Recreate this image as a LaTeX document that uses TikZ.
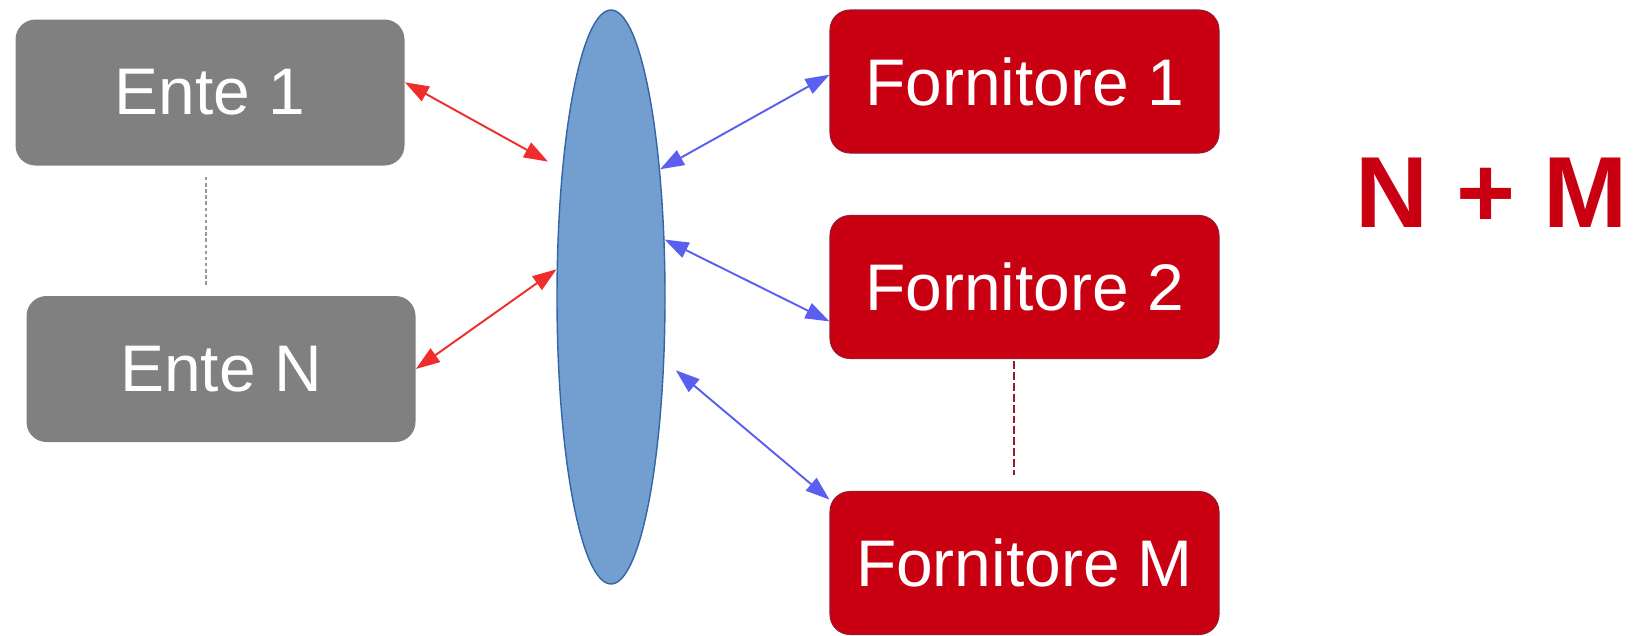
\documentclass[tikz,border=0pt]{standalone}
\usepackage{fontspec}
\setmainfont{Liberation Sans}
\usepackage{tikz}
\usetikzlibrary{calc}
\usetikzlibrary{arrows.meta}
\usetikzlibrary{shapes.geometric}
\definecolor{entegray}{RGB}{128,128,128}
\definecolor{fornred}{RGB}{201,0,17}
\definecolor{fornedge}{RGB}{150,25,45}
\definecolor{hubblue}{RGB}{114,159,207}
\definecolor{hubedge}{RGB}{52,101,164}
\definecolor{arrred}{RGB}{240,45,45}
\definecolor{arrblue}{RGB}{90,95,240}
\tikzset{ente/.style={rectangle,rounded corners=0.4cm,fill=entegray,text=white,minimum width=7.78cm,minimum height=2.92cm,inner sep=0pt,font=\fontsize{37.5}{40}\selectfont}}
\tikzset{fornitore/.style={rectangle,rounded corners=0.4cm,fill=fornred,draw=fornedge,line width=0.6pt,text=white,minimum width=7.78cm,minimum height=2.86cm,inner sep=0pt,font=\fontsize{37.5}{40}\selectfont}}
\tikzset{hub/.style={ellipse,fill=hubblue,draw=hubedge,line width=0.8pt,minimum width=2.16cm,minimum height=11.48cm,inner sep=0pt}}
\tikzset{somma/.style={text=fornred,inner sep=0pt,font=\fontsize{57.5}{60}\selectfont\bfseries}}
\tikzset{linkred/.style={draw=arrred,line width=1.1pt,>={Triangle[length=0.48cm,width=0.33cm]},<->}}
\tikzset{linkblue/.style={draw=arrblue,line width=1.1pt,>={Triangle[length=0.48cm,width=0.33cm]},<->}}
\tikzset{dotgray/.style={draw=gray!80,line width=0.8pt,dash pattern=on 2pt off 1.5pt}}
\tikzset{dotred/.style={draw=fornedge,line width=1.1pt,dash pattern=on 4.5pt off 1.7pt}}

\begin{document}
\begin{tikzpicture}
  \useasboundingbox (0,0) rectangle (32.74,-12.7);
  \node[ente] (ente1) at (4.2,-1.85) {Ente 1};
  \node[ente] (enteN) at (4.42,-7.38) {Ente N};
  \node[hub] (hub) at (12.22,-5.94) {};
  \node[fornitore] (forn1) at (20.49,-1.63) {Fornitore 1};
  \node[fornitore] (forn2) at (20.49,-5.74) {Fornitore 2};
  \node[fornitore] (fornM) at (20.49,-11.26) {Fornitore M};
  \node[somma] (somma) at (29.83,-3.85) {N + M};
  \draw[dotgray] ($(ente1.south)+(-0.08,-0.22)$) -- ($(ente1.south |- enteN.north)+(-0.08,0.18)$);
  \draw[dotred] ($(forn2.south)+(-0.21,-0.04)$) -- ($(fornM.north)+(-0.21,0.32)$);
\begin{scope}
  \draw[linkred, shorten >=0.32cm] (ente1.3) -- (hub.111);
  \draw[linkred] (enteN.east) -- (hub.153);
  \draw[linkblue] (hub.69) -- (forn1.178);
  \draw[linkblue] (hub.47) -- (forn2.190);
  \draw[linkblue, shorten <=0.3cm] (hub.-50) -- (fornM.162);
\end{scope}
\end{tikzpicture}
\end{document}
